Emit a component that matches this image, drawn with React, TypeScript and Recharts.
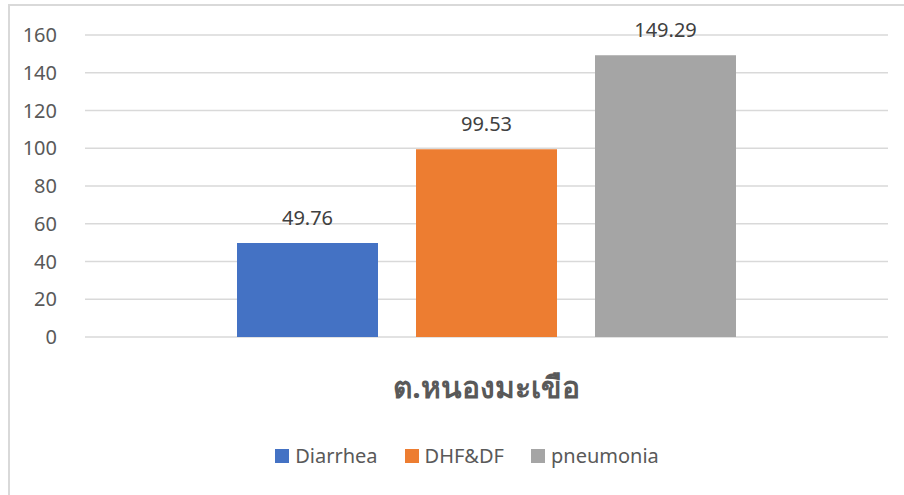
import { BarChart, Bar, XAxis, YAxis, CartesianGrid, Legend, LabelList } from 'recharts'

const categories = ['ต.หนองมะเขือ']
const diarrhea = [49.76]
const dhf = [99.53]
const pneumonia = [149.29]
const yTicks = [0, 20, 40, 60, 80, 100, 120, 140, 160]

const series = [
  { key: 'Diarrhea', color: '#4472C4' },
  { key: 'DHF&DF', color: '#ED7D31' },
  { key: 'pneumonia', color: '#A5A5A5' },
]

const data = categories.map((c, i) => ({
  name: c,
  Diarrhea: diarrhea[i],
  'DHF&DF': dhf[i],
  pneumonia: pneumonia[i],
}))

const FONT = '"Noto Sans", "Liberation Sans", sans-serif'

function LegendContent() {
  return (
    <div style={{ display: 'flex', justifyContent: 'center', gap: 27, fontFamily: FONT, fontSize: 20, color: '#595959', paddingLeft: 30 }}>
      {series.map(s => (
        <div key={s.key} style={{ display: 'flex', alignItems: 'center' }}>
          <span style={{ width: 14, height: 14, background: s.color, display: 'inline-block', marginRight: 6 }} />
          <span>{s.key}</span>
        </div>
      ))}
    </div>
  )
}

export default function App() {
  return (
    <div style={{ position: 'absolute', left: 0, top: 0, width: 904, height: 495, background: '#fff', overflow: 'hidden' }}>
      <div style={{ position: 'absolute', left: 8, top: 4, width: 900, height: 500, border: '2px solid #D9D9D9', boxSizing: 'border-box' }} />
      <BarChart
        width={904}
        height={495}
        data={data}
        margin={{ top: 35, right: 16, bottom: 0, left: 0 }}
        barSize={141}
        barGap={38}
        style={{ position: 'absolute', left: 0, top: 0 }}
      >
        <CartesianGrid vertical={false} stroke="#D9D9D9" strokeWidth={1.5} />
        <XAxis
          dataKey="name"
          axisLine={false}
          tickLine={false}
          height={131}
          tick={{ fontSize: 30, fontWeight: 700, fill: '#595959', fontFamily: FONT }}
          dy={32}
        />
        <YAxis
          domain={[0, 160]}
          ticks={yTicks}
          width={85}
          axisLine={false}
          tickLine={false}
          tickMargin={22}
          tick={{ fontSize: 20, fill: '#595959', fontFamily: FONT }}
        />
        <Legend content={<LegendContent />} wrapperStyle={{ top: 442, left: 0, width: 904 }} />
        {series.map(s => (
          <Bar key={s.key} dataKey={s.key} fill={s.color} isAnimationActive={false}>
            <LabelList dataKey={s.key} position="top" offset={18} fill="#404040" fontSize={20} fontFamily={FONT} />
          </Bar>
        ))}
      </BarChart>
    </div>
  )
}
